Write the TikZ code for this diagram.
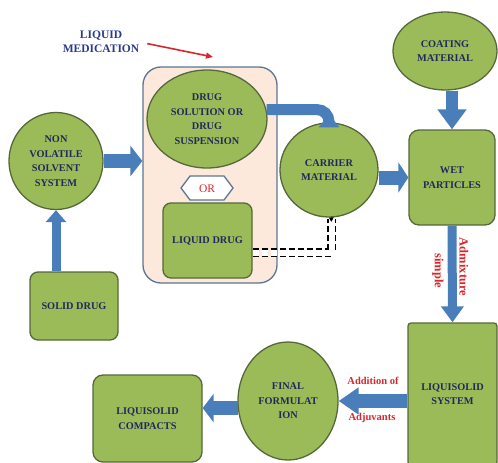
\documentclass[tikz,border=0pt]{standalone}
\usepackage{fontspec}
\setmainfont{Liberation Serif}
\usetikzlibrary{shapes.geometric,arrows.meta}
\definecolor{gfill}{HTML}{9BBB59}
\definecolor{gline}{HTML}{56683A}
\definecolor{navy}{HTML}{1F2A5C}
\definecolor{medblue}{HTML}{2B3A8C}
\definecolor{ablue}{HTML}{4A7EBB}
\definecolor{peach}{HTML}{FCE9DC}
\definecolor{slate}{HTML}{5D7593}
\definecolor{redtxt}{HTML}{D9262C}
\begin{document}
\begin{tikzpicture}[x=1pt,y=-1pt,
  txt/.style={text=navy,font=\bfseries\fontsize{10.3}{14.5}\selectfont,align=center,inner sep=0pt},
  gell/.style={ellipse,draw=gline,fill=gfill,line width=1.3pt,txt},
  gbox/.style={rectangle,rounded corners=#1,draw=gline,fill=gfill,line width=1.3pt,txt},
  barrow/.style n args={3}{draw=ablue,line width=#1,-{Triangle[length=#2,width=#3]}},
  redlab/.style={text=redtxt,font=\bfseries\fontsize{10.5}{12}\selectfont,inner sep=0pt}
]
\useasboundingbox (0,0) rectangle (498,463);

% container
\node[draw=slate,fill=peach,line width=1.3pt,rounded corners=18pt,minimum width=134pt,minimum height=216pt,inner sep=0pt] (cont) at (210,175) {};

\node[text=medblue,font=\bfseries\fontsize{11.5}{14}\selectfont,align=center,inner sep=0pt] (med) at (101,42) {LIQUID\\MEDICATION};
\coordinate (redend) at (213,57);
\draw[draw=redtxt,line width=1.6pt,-{Triangle[length=7pt,width=6pt]},shorten <=8pt] (med.east) -- (redend);

\node[gell,minimum width=120pt,minimum height=98pt] (drug) at (207,119) {DRUG\\SOLUTION OR\\DRUG\\SUSPENSION};
\draw[draw=slate,fill=white,line width=1.3pt] (181,188) -- (190,176) -- (224,176) -- (233,188) -- (224,200) -- (190,200) -- cycle;
\node[text=redtxt,font=\fontsize{11.5}{12}\selectfont,inner sep=0pt] (ortxt) at (207,188.5) {OR};

\node[gbox=8pt,minimum width=89pt,minimum height=75pt] (ldrug) at (207.5,240.5) {LIQUID DRUG};

\node[gell,minimum width=94pt,minimum height=97pt] (nvss) at (56,161) {NON\\VOLATILE\\SOLVENT\\SYSTEM};
\node[gbox=8pt,minimum width=88pt,minimum height=68pt] (solid) at (74,306) {SOLID DRUG};

\node[gell,minimum width=98pt,minimum height=94pt] (carrier) at (329,170) {CARRIER\\MATERIAL};
\node[gell,minimum width=104pt,minimum height=78pt] (coat) at (445,51) {COATING\\MATERIAL};
\node[gbox=10pt,minimum width=86pt,minimum height=95pt] (wet) at (452,177.5) {WET\\PARTICLES};
\node[gbox=3pt,minimum width=89pt,minimum height=142pt] (lsys) at (452.5,394) {LIQUISOLID\\SYSTEM};
\node[gell,minimum width=100pt,minimum height=118pt] (final) at (288,401) {FINAL\\FORMULAT\\ION};
\node[gbox=10pt,minimum width=109pt,minimum height=87pt] (comp) at (147.5,418.5) {LIQUISOLID\\COMPACTS};

% block arrows
\draw[barrow={14pt}{12pt}{30pt}] (nvss.east) -- (nvss.east -| cont.west);
\draw[barrow={9pt}{12pt}{20pt}] (solid.north -| nvss.south) -- (nvss.south);
\draw[barrow={11pt}{13pt}{20pt},rounded corners=12pt] (drug.9) -- (drug.9 -| carrier.north) -- ([yshift=8pt]carrier.north);
\draw[barrow={14pt}{10pt}{30pt}] (carrier.east |- wet.west) -- (wet.west);
\draw[barrow={12pt}{20pt}{28pt}] (coat.south -| wet.north) -- (wet.north);
\draw[barrow={9pt}{16pt}{22pt}] (wet.south) -- (lsys.north);
\draw[barrow={14pt}{20pt}{26pt}] (lsys.west |- final.east) -- (final.east);
\draw[barrow={14pt}{11pt}{28pt}] (final.188) -- (final.188 -| comp.east);

% dashed connector
\draw[line width=1.3pt,double=white,double distance=6pt,dash pattern=on 6pt off 3pt] (ldrug.east |- 0,252.5) -- (331.5,252.5) -- (331.5,219);
\draw[line width=1.3pt,-{Triangle[length=4pt,width=5pt]}] (331.5,219) -- (carrier.south);

% labels
\node[redlab,font=\bfseries\fontsize{12.5}{14}\selectfont,rotate=-90] (admix) at (464,267) {Admixture};
\node[redlab,font=\bfseries\fontsize{12.5}{14}\selectfont,rotate=-90] (simple) at (438,271) {simple};
\node[redlab] (addof) at (373,381) {Addition of};
\node[redlab] (adjuv) at (372,418) {Adjuvants};
\end{tikzpicture}
\end{document}
